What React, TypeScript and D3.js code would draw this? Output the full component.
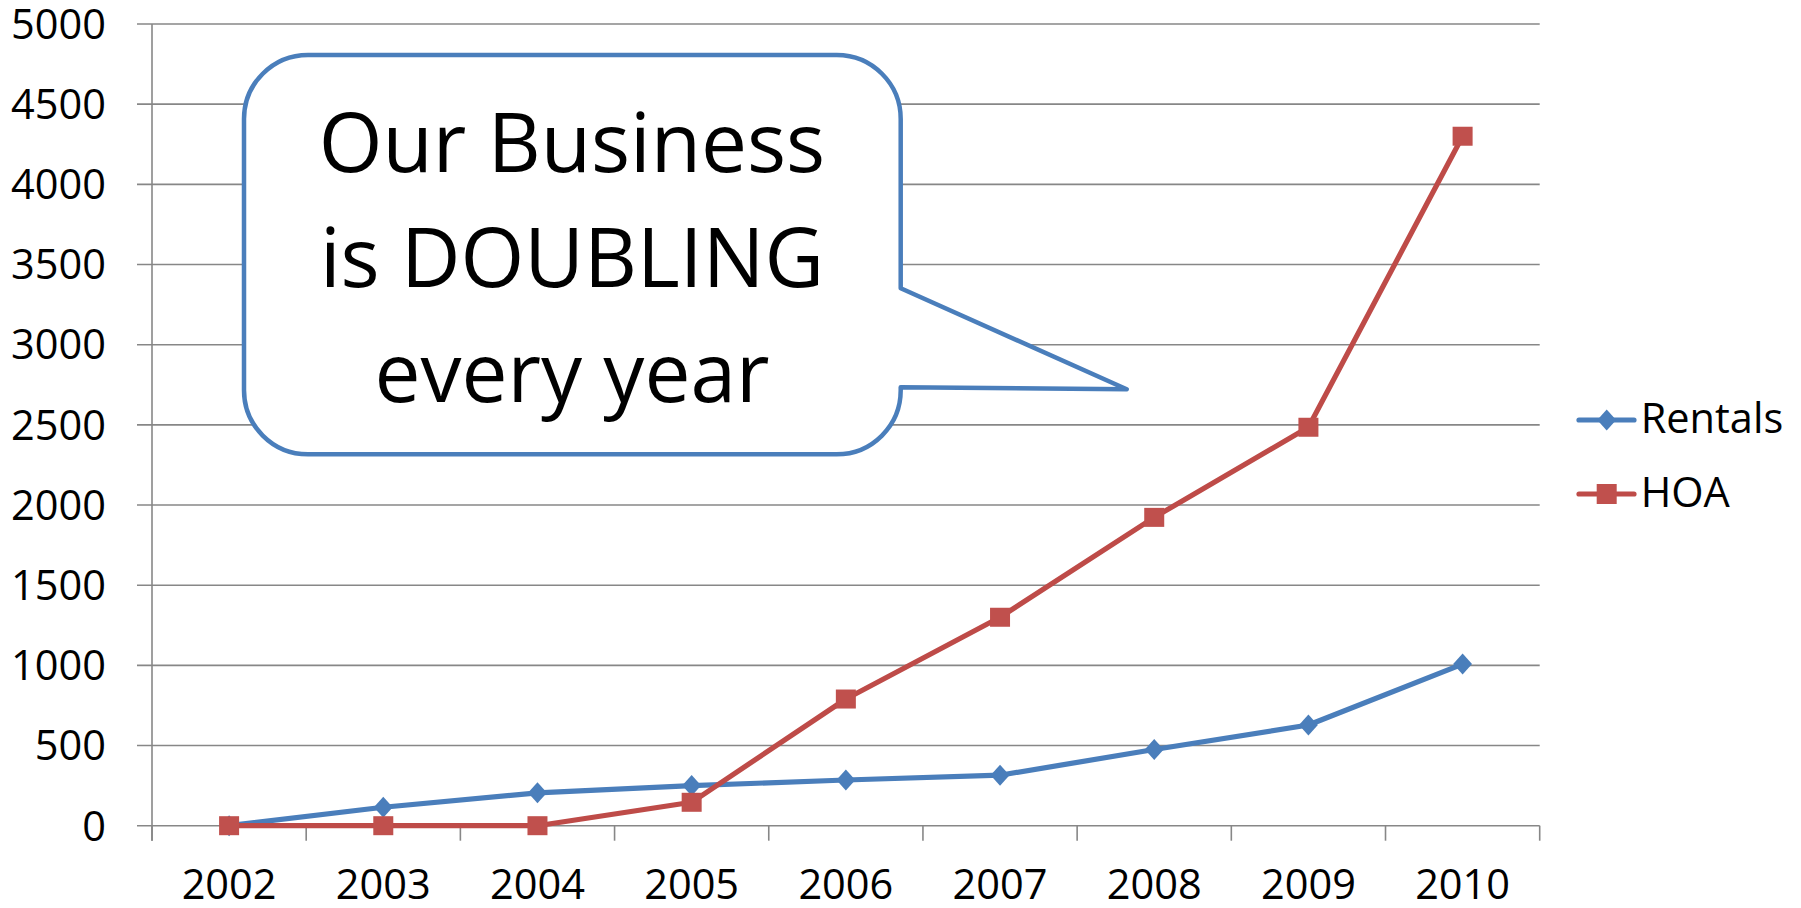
import React from "react";
import * as d3 from "d3";

const years = ["2002", "2003", "2004", "2005", "2006", "2007", "2008", "2009", "2010"];
const rentals = [0, 115, 205, 250, 285, 315, 475, 628, 1008];
const hoa = [0, 0, 0, 146, 790, 1300, 1923, 2485, 4300];
const yTicks = [0, 500, 1000, 1500, 2000, 2500, 3000, 3500, 4000, 4500, 5000];
const seriesNames = ["Rentals", "HOA"];
const calloutLines = ["Our Business", "is DOUBLING", "every year"];

const W = 1801;
const H = 908;
const FONT = "'Open Sans', 'Noto Sans', sans-serif";
const BLUE = "#4A7EBB";
const RED = "#BE4B48";
const GRID = "#878787";

export default function App() {
  const x = d3.scaleBand<string>().domain(years).range([152, 1539.7]).padding(0);
  const y = d3.scaleLinear().domain([0, 5000]).range([825.7, 24]);
  const cx = (yr: string) => (x(yr) as number) + x.bandwidth() / 2;

  const line = d3
    .line<number>()
    .x((_, i) => cx(years[i]))
    .y((d) => y(d));

  const diamond = (px: number, py: number, s: number) =>
    `M${px},${py - s}L${px + s * 0.9},${py}L${px},${py + s}L${px - s * 0.9},${py}Z`;

  const x0 = 152;
  const x1 = 1539.7;
  const y0 = y(0);

  // callout geometry
  const L = 244, R = 900.7, T = 55, B = 454.3, r = 64;
  const calloutPath =
    `M${L + r},${T}H${R - r}A${r},${r} 0 0 1 ${R},${T + r}` +
    `V288.3L1126.7,389.3L${R},387.3` +
    `V${B - r}A${r},${r} 0 0 1 ${R - r},${B}H${L + r}` +
    `A${r},${r} 0 0 1 ${L},${B - r}V${T + r}A${r},${r} 0 0 1 ${L + r},${T}Z`;

  const fs = 41.5;
  const bounds = [...years.map((yr) => x(yr) as number), x1];

  return (
    <svg
      width={W}
      height={H}
      style={{ position: "absolute", left: 0, top: 0, background: "#fff" }}
      fontFamily={FONT}
    >
      <rect x={0} y={0} width={W} height={H} fill="#fff" />
      {/* gridlines + y ticks */}
      {yTicks.map((t) => (
        <line key={"g" + t} x1={137} x2={x1} y1={y(t)} y2={y(t)} stroke={GRID} strokeWidth={1.6} />
      ))}
      {/* y axis */}
      <line x1={x0} x2={x0} y1={y(5000)} y2={y0 + 15} stroke={GRID} strokeWidth={1.6} />
      {/* x ticks */}
      {bounds.map((b, i) => (
        <line key={"xt" + i} x1={b} x2={b} y1={y0} y2={y0 + 15} stroke={GRID} strokeWidth={1.6} />
      ))}
      {/* y labels */}
      {yTicks.map((t) => (
        <text key={"yl" + t} x={106} y={y(t) + fs * 0.357} textAnchor="end" fontSize={fs} fill="#000">
          {t}
        </text>
      ))}
      {/* x labels */}
      {years.map((yr) => (
        <text key={"xl" + yr} x={cx(yr)} y={899} textAnchor="middle" fontSize={fs} fill="#000">
          {yr}
        </text>
      ))}

      {/* callout */}
      <path d={calloutPath} fill="#fff" stroke={BLUE} strokeWidth={4.5} strokeLinejoin="round" />
      {calloutLines.map((t, i) => (
        <text key={"c" + i} x={572} y={171.7 + i * 115} textAnchor="middle" fontSize={82} fill="#000">
          {t}
        </text>
      ))}

      {/* series lines */}
      <path d={line(rentals) || ""} fill="none" stroke={BLUE} strokeWidth={5.2} strokeLinejoin="round" />
      <path d={line(hoa) || ""} fill="none" stroke={RED} strokeWidth={5.2} strokeLinejoin="round" />
      {rentals.map((v, i) => (
        <path key={"rm" + i} d={diamond(cx(years[i]), y(v), 10.5)} fill={BLUE} />
      ))}
      {hoa.map((v, i) => (
        <rect key={"hm" + i} x={cx(years[i]) - 10} y={y(v) - 9.5} width={20} height={19} fill="#C0504D" />
      ))}

      {/* legend */}
      <line x1={1579} x2={1634} y1={420} y2={420} stroke={BLUE} strokeWidth={5.2} strokeLinecap="round" />
      <path d={diamond(1606.7, 420, 10.5)} fill={BLUE} />
      <text x={1640.7} y={433} fontSize={fs} fill="#000">
        {seriesNames[0]}
      </text>
      <line x1={1579} x2={1634} y1={494} y2={494} stroke={RED} strokeWidth={5.2} strokeLinecap="round" />
      <rect x={1596.7} y={484} width={20} height={20} fill="#C0504D" />
      <text x={1640.7} y={507.3} fontSize={fs} fill="#000">
        {seriesNames[1]}
      </text>
    </svg>
  );
}
